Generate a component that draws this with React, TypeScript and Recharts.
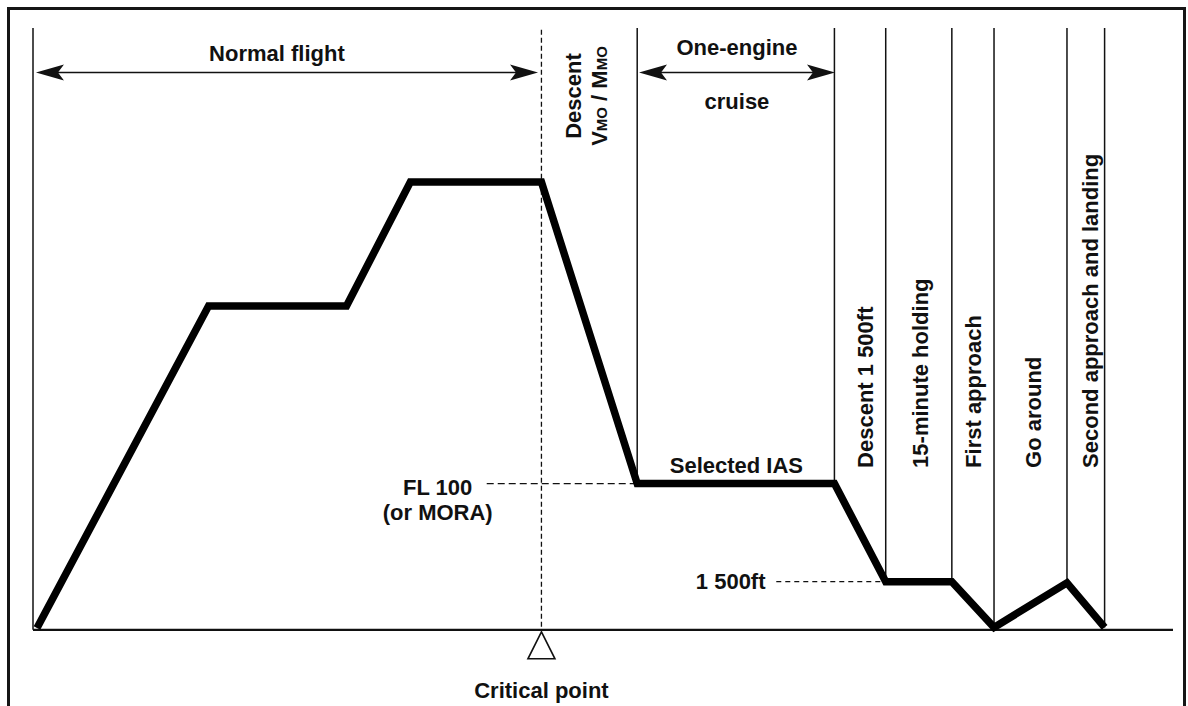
import { LineChart, Line, XAxis, YAxis, ReferenceLine, ReferenceDot } from 'recharts';

// Flight profile: track distance (0–100) vs. altitude (arbitrary units, ground = 0)
const profileDistance = [0.35, 15.4, 27.5, 33.1, 44.6, 53.0, 70.3, 74.8, 80.6, 84.3, 90.7, 94.0];
const profileAltitude = [0.3, 53.8, 53.8, 74.4, 74.4, 24.3, 24.3, 8.0, 8.0, 0.4, 7.8, 0.4];

// Thin vertical lines separating the flight phases
const phaseBoundaries = [0, 53.0, 70.3, 74.8, 80.6, 84.3, 90.7, 94.0];

const criticalPoint = 44.6;
const fl100Altitude = 24.3;
const fl100DashStart = 39.8;
const holdAltitude = 8.0;
const holdDashStart = 65.2;

// Double-headed span arrows at the top
const spanLabels = ['Normal flight', 'One-engine'];
const spanFrom = [0.26, 53.16];
const spanTo = [44.3, 70.35];
const spanAltitude = 92.6;

// Rotated phase names, read bottom to top
const phaseNames = ['Descent 1 500ft', '15-minute holding', 'First approach', 'Go around', 'Second approach and landing'];
const phaseNameX = [73.0, 77.8, 82.5, 87.7, 92.7];
const phaseNameBottom = 26.9;

// Horizontal annotations
const noteTexts = ['Normal flight', 'One-engine', 'cruise', 'FL 100', '(or MORA)', 'Selected IAS', '1 500ft', 'Critical point'];
const noteX = [21.4, 61.75, 61.75, 35.5, 35.5, 61.7, 61.2, 44.6];
const noteY = [94.5, 95.5, 86.6, 22.4, 18.3, 26.1, 6.8, -11.4];

const profile = profileDistance.map((d, i) => ({ dist: d, alt: profileAltitude[i] }));

function altitudeAt(x: number): number {
  if (x <= profileDistance[0]) return 0;
  for (let i = 1; i < profileDistance.length; i++) {
    if (x <= profileDistance[i]) {
      const x0 = profileDistance[i - 1];
      const x1 = profileDistance[i];
      const t = (x - x0) / (x1 - x0);
      return profileAltitude[i - 1] + t * (profileAltitude[i] - profileAltitude[i - 1]);
    }
  }
  return 0;
}

const FONT = '"Liberation Sans", Arial, Helvetica, sans-serif';
const FONT_SIZE = 22;
const INK = '#111';

function ArrowLine(props: any) {
  const { x1, y1, x2, y2 } = props;
  const len = 28;
  const half = 8;
  const notch = 22;
  return (
    <g>
      <line x1={x1 + notch} y1={y1} x2={x2 - notch} y2={y2} stroke={INK} strokeWidth={1.5} />
      <polygon
        points={`${x1},${y1} ${x1 + len},${y1 - half} ${x1 + notch},${y1} ${x1 + len},${y1 + half}`}
        fill={INK}
      />
      <polygon
        points={`${x2},${y2} ${x2 - len},${y2 - half} ${x2 - notch},${y2} ${x2 - len},${y2 + half}`}
        fill={INK}
      />
    </g>
  );
}

const textProps = {
  fontFamily: FONT,
  fontSize: FONT_SIZE,
  fontWeight: 700,
  fill: INK,
};

export default function App() {
  return (
    <div
      style={{
        position: 'absolute',
        left: 0,
        top: 0,
        width: 1188,
        height: 706,
        overflow: 'hidden',
        background: '#fff',
      }}
    >
      {/* scanned frame */}
      <div
        style={{
          position: 'absolute',
          left: 7,
          top: 7,
          width: 1179,
          height: 800,
          border: '3px solid #161616',
          boxSizing: 'border-box',
        }}
      />
      <div style={{ position: 'absolute', left: 0, top: 0 }}>
        <LineChart
          width={1188}
          height={706}
          data={profile}
          margin={{ top: 28, right: 15, bottom: 4, left: 33 }}
        >
          <XAxis type="number" dataKey="dist" domain={[0, 100]} hide />
          <YAxis type="number" domain={[-12, 100]} hide />

          {/* ground */}
          <ReferenceLine
            segment={[{ x: 0, y: 0 }, { x: 100, y: 0 }]}
            stroke={INK}
            strokeWidth={2.2}
            ifOverflow="visible"
          />

          {/* phase dividers */}
          {phaseBoundaries.map((x) => (
            <ReferenceLine
              key={`b${x}`}
              segment={[{ x, y: 100 }, { x, y: altitudeAt(x) }]}
              stroke={INK}
              strokeWidth={1.5}
              ifOverflow="visible"
            />
          ))}

          {/* critical point */}
          <ReferenceLine
            segment={[{ x: criticalPoint, y: 99.7 }, { x: criticalPoint, y: 0 }]}
            stroke={INK}
            strokeWidth={1.3}
            strokeDasharray="5 3"
            ifOverflow="visible"
          />

          {/* FL 100 and 1 500ft dashes */}
          <ReferenceLine
            segment={[{ x: fl100DashStart, y: fl100Altitude }, { x: profileDistance[5], y: fl100Altitude }]}
            stroke={INK}
            strokeWidth={1.3}
            strokeDasharray="7 4"
            ifOverflow="visible"
          />
          <ReferenceLine
            segment={[{ x: holdDashStart, y: holdAltitude }, { x: profileDistance[7], y: holdAltitude }]}
            stroke={INK}
            strokeWidth={1.3}
            strokeDasharray="5 4"
            ifOverflow="visible"
          />

          <Line
            type="linear"
            dataKey="alt"
            stroke="#000"
            strokeWidth={7.5}
            strokeLinejoin="miter"
            dot={false}
            activeDot={false}
            isAnimationActive={false}
          />

          {/* span arrows */}
          {spanLabels.map((label, i) => (
            <ReferenceLine
              key={label}
              segment={[{ x: spanFrom[i], y: spanAltitude }, { x: spanTo[i], y: spanAltitude }]}
              ifOverflow="visible"
              shape={(p: any) => <ArrowLine {...p} />}
            />
          ))}

          {/* triangle marker under the critical point */}
          <ReferenceDot
            x={criticalPoint}
            y={0}
            r={0}
            ifOverflow="visible"
            shape={(p: any) => (
              <polygon
                points={`${p.cx},${p.cy + 2} ${p.cx - 13.5},${p.cy + 29} ${p.cx + 13.5},${p.cy + 29}`}
                fill="#fff"
                stroke={INK}
                strokeWidth={1.6}
              />
            )}
          />

          {/* horizontal notes */}
          {noteTexts.map((t, i) => (
            <ReferenceDot
              key={t}
              x={noteX[i]}
              y={noteY[i]}
              r={0}
              ifOverflow="visible"
              shape={(p: any) => (
                <text x={p.cx} y={p.cy} textAnchor="middle" {...textProps}>
                  {t}
                </text>
              )}
            />
          ))}

          {/* Descent VMO / MMO */}
          <ReferenceDot
            x={47.4}
            y={88.7}
            r={0}
            ifOverflow="visible"
            shape={(p: any) => (
              <text
                x={p.cx}
                y={p.cy}
                dy="0.36em"
                textAnchor="middle"
                transform={`rotate(-90 ${p.cx} ${p.cy})`}
                {...textProps}
              >
                Descent
              </text>
            )}
          />
          <ReferenceDot
            x={49.7}
            y={88.7}
            r={0}
            ifOverflow="visible"
            shape={(p: any) => (
              <text
                x={p.cx}
                y={p.cy}
                dy="0.36em"
                textAnchor="middle"
                transform={`rotate(-90 ${p.cx} ${p.cy})`}
                {...textProps}
              >
                V<tspan fontSize={15}>MO</tspan> / M<tspan fontSize={15}>MO</tspan>
              </text>
            )}
          />

          {/* phase names */}
          {phaseNames.map((t, i) => (
            <ReferenceDot
              key={t}
              x={phaseNameX[i]}
              y={phaseNameBottom}
              r={0}
              ifOverflow="visible"
              shape={(p: any) => (
                <text
                  x={p.cx}
                  y={p.cy}
                  dy="0.36em"
                  textAnchor="start"
                  transform={`rotate(-90 ${p.cx} ${p.cy})`}
                  {...textProps}
                >
                  {t}
                </text>
              )}
            />
          ))}
        </LineChart>
      </div>
    </div>
  );
}
